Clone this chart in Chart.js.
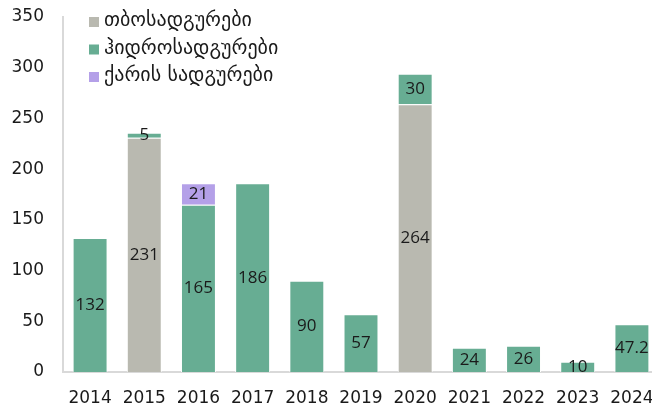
<!DOCTYPE html>
<html>
<head>
<meta charset="utf-8">
<script src="https://cdn.jsdelivr.net/npm/chart.js@4"></script>
<style>
  html, body { margin: 0; padding: 0; background: #fff; }
  #wrap { width: 652px; height: 409px; }
</style>
</head>
<body>
<div id="wrap"><canvas id="powerChart" width="652" height="409"></canvas></div>
<script>
// Chart data
const years = ['2014', '2015', '2016', '2017', '2018', '2019', '2020', '2021', '2022', '2023', '2024'];
const thermal = [null, 231, null, null, null, null, 264, null, null, null, null];
const hydro = [132, 5, 165, 186, 90, 57, 30, 24, 26, 10, 47.2];
const wind = [null, null, 21, null, null, null, null, null, null, null, null];
const seriesNames = ['თბოსადგურები', 'ჰიდროსადგურები', 'ქარის სადგურები'];
const seriesColors = ['#b9b9b0', '#67ad93', '#b4a0e8'];

const AXIS_FONT = "'DejaVu Sans', sans-serif";
const LABEL_FONT = "'Open Sans', 'DejaVu Sans', sans-serif";

// value labels in the middle of each segment
const valueLabels = {
    id: 'valueLabels',
    afterDatasetsDraw(chart) {
        const ctx = chart.ctx;
        ctx.save();
        ctx.font = '17px ' + LABEL_FONT;
        ctx.fillStyle = '#1a1a1a';
        ctx.textAlign = 'center';
        ctx.textBaseline = 'middle';
        chart.data.datasets.forEach(function (ds, i) {
            chart.getDatasetMeta(i).data.forEach(function (bar, j) {
                const v = ds.data[j];
                if (v === null || v === undefined) return;
                ctx.fillText(String(v), bar.x, (bar.y + bar.base) / 2);
            });
        });
        ctx.restore();
    }
};

// legend drawn inside the plot, top left
const insideLegend = {
    id: 'insideLegend',
    afterDraw(chart) {
        const ctx = chart.ctx;
        ctx.save();
        ctx.font = '20px ' + AXIS_FONT;
        ctx.textBaseline = 'middle';
        ctx.textAlign = 'left';
        seriesNames.forEach(function (name, i) {
            const y = 22 + i * 27.5;
            ctx.fillStyle = seriesColors[i];
            ctx.fillRect(89, y - 5, 10, 10);
            ctx.fillStyle = '#1a1a1a';
            ctx.fillText(name, 104, y - 1);
        });
        ctx.restore();
    }
};

// the original plot runs a little past the right edge of the picture
const widenPlot = {
    id: 'widenPlot',
    afterLayout(chart) {
        const extra = 7;
        const x = chart.scales.x;
        x.right += extra;
        x.width += extra;
        chart.chartArea.right += extra;
        chart.chartArea.width += extra;
        x.configure();
    }
};

new Chart(document.getElementById('powerChart'), {
    type: 'bar',
    data: {
        labels: years,
        datasets: [
            { label: seriesNames[0], data: thermal, backgroundColor: seriesColors[0] },
            { label: seriesNames[1], data: hydro, backgroundColor: seriesColors[1] },
            { label: seriesNames[2], data: wind, backgroundColor: seriesColors[2] }
        ].map(function (d) {
            return Object.assign(d, {
                borderColor: '#ffffff',
                borderWidth: 1,
                barPercentage: 0.645,
                categoryPercentage: 1
            });
        })
    },
    options: {
        responsive: false,
        animation: false,
        layout: { autoPadding: false, padding: { top: 17, right: 0, left: 0, bottom: 0 } },
        plugins: {
            legend: { display: false },
            tooltip: { enabled: false }
        },
        scales: {
            x: {
                stacked: true,
                grid: { display: false, drawTicks: false },
                border: { color: '#d9d9d9', width: 2 },
                ticks: { color: '#1a1a1a', font: { size: 17, family: AXIS_FONT }, padding: 16 },
                afterFit: function (scale) {
                    scale.height = 37;
                    scale.paddingLeft = 0;
                    scale.paddingRight = 0;
                }
            },
            y: {
                stacked: true,
                min: 0,
                max: 350,
                grid: { display: false, drawTicks: false },
                border: { color: '#d9d9d9', width: 2 },
                ticks: { stepSize: 50, color: '#1a1a1a', font: { size: 17, family: AXIS_FONT }, padding: 19 },
                afterFit: function (scale) {
                    scale.width = 63;
                    scale.paddingTop = 0;
                    scale.paddingBottom = 0;
                }
            }
        }
    },
    plugins: [valueLabels, insideLegend, widenPlot]
});
</script>
</body>
</html>
